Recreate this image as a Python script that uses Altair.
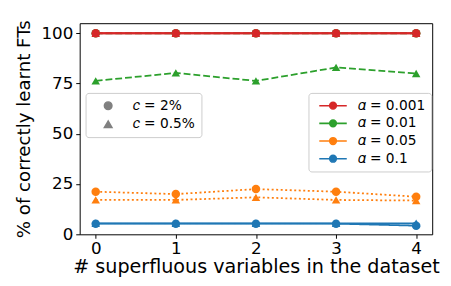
import altair as alt
import pandas as pd

xs = [0, 1, 2, 3, 4]
alpha_labels = ["𝛼 = 0.001", "𝛼 = 0.01", "𝛼 = 0.05", "𝛼 = 0.1"]
c_labels = ["𝑐 = 2%", "𝑐 = 0.5%"]
colors = ["#d62728", "#2ca02c", "#ff7f0e", "#1f77b4"]
dashes = [[1, 0], [7, 3], [2, 2.6], [1, 0]]

# values for c = 2%
c2 = {
    "𝛼 = 0.001": [100, 100, 100, 100, 100],
    "𝛼 = 0.01": [100, 100, 100, 100, 100],
    "𝛼 = 0.05": [21.2, 20.0, 22.5, 21.2, 18.7],
    "𝛼 = 0.1": [5.3, 5.3, 5.3, 5.3, 4.3],
}
# values for c = 0.5%
c05 = {
    "𝛼 = 0.001": [100, 100, 100, 100, 100],
    "𝛼 = 0.01": [76.3, 80.3, 76.3, 83.0, 80.0],
    "𝛼 = 0.05": [17.1, 17.1, 18.4, 17.1, 16.8],
    "𝛼 = 0.1": [5.5, 5.5, 5.5, 5.5, 5.5],
}

rows = []
order = 0
for a in reversed(alpha_labels):
    for c, d in ((c_labels[1], c05), (c_labels[0], c2)):
        for x, v in zip(xs, d[a]):
            rows.append({"x": x, "y": v, "alpha": a, "c": c, "o": order})
        order += 1
df = pd.DataFrame(rows)

FONT = "DejaVu Sans"
sym_path = "M -3.5 0 L 3.5 0 M -0.85 0 A 0.85 0.85 0 1 0 0.85 0 A 0.85 0.85 0 1 0 -0.85 0 Z"

x_enc = alt.X("x:Q", scale=alt.Scale(domain=[-0.2, 4.2], nice=False, zero=False),
              axis=alt.Axis(values=xs, format="d", title="# superfluous variables in the dataset",
                            titleFontSize=19.5, titlePadding=0.5))
y_enc = alt.Y("y:Q", scale=alt.Scale(domain=[0, 105], nice=False),
              axis=alt.Axis(values=[0, 25, 50, 75, 100], title="% of correctly learnt FTs",
                            titleFontSize=18.5, titlePadding=8))

color_scale = alt.Scale(domain=alpha_labels, range=colors)

lines = alt.Chart(df).mark_line(strokeWidth=1.8).encode(
    x=x_enc, y=y_enc,
    color=alt.Color("alpha:N", scale=color_scale,
                    legend=alt.Legend(
                        title=None, orient="none", legendX=233, legendY=71,
                        symbolType=sym_path, symbolSize=64, symbolStrokeWidth=1.6,
                        symbolFillColor={"expr": "scale('color', datum.value)"},
                        symbolOffset=12, labelOffset=18,
                        labelFontSize=14, labelFont=FONT, labelColor="black",
                        rowPadding=4, padding=6,
                        fillColor="white", strokeColor="#cccccc", cornerRadius=3)),
    strokeDash=alt.StrokeDash("alpha:N", scale=alt.Scale(domain=alpha_labels, range=dashes)),
    detail="c:N",
    order=alt.Order("o:Q"),
)

points = alt.Chart(df).mark_point(filled=True, size=75, opacity=1).encode(
    x=x_enc, y=y_enc,
    color=alt.Color("alpha:N", scale=color_scale, legend=None),
    shape=alt.Shape("c:N", scale=alt.Scale(domain=c_labels, range=["circle", "triangle-up"]),
                    legend=alt.Legend(
                        title=None, orient="none", legendX=6, legendY=71,
                        symbolFillColor="#808080", symbolStrokeColor="#808080",
                        symbolSize=60, symbolOffset=10, labelOffset=18,
                        labelFontSize=14, labelFont=FONT, labelColor="black",
                        rowPadding=5, padding=6,
                        fillColor="white", strokeColor="#cccccc", cornerRadius=3)),
)

chart = alt.layer(lines, points).resolve_legend(color="independent", shape="independent").properties(
    width=359, height=215,
    autosize=alt.AutoSizeParams(type="none"),
    padding={"left": 73, "top": 13, "right": 11, "bottom": 42},
).configure_view(stroke="black", strokeWidth=1).configure_axis(
    labelFont=FONT, titleFont=FONT, labelFontSize=17,
    labelColor="black", titleColor="black", titleFontWeight="normal",
    tickColor="black", domainColor="black", tickSize=4, grid=False,
    labelPadding=3, domain=False,
)

chart.save("out.html", embed_options={"renderer": "svg", "actions": False})
